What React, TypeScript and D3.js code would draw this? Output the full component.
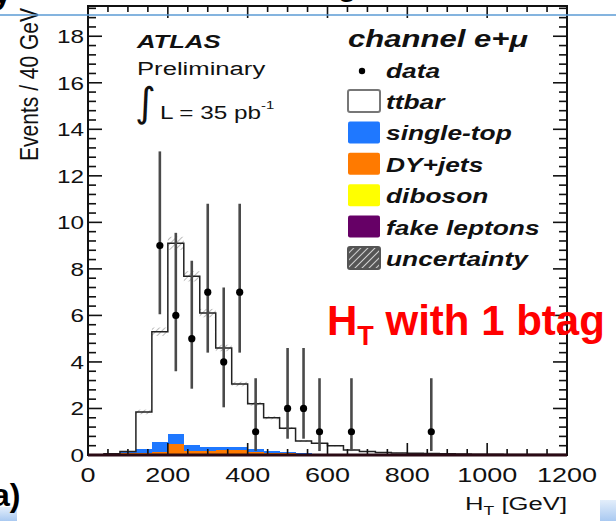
import * as d3 from "d3";

// bin low edges (40 GeV bins)
const binLow = [0, 40, 80, 120, 160, 200, 240, 280, 320, 360, 400, 440, 480, 520, 560, 600, 640, 680, 720, 760, 800, 840, 880, 920, 960, 1000, 1040, 1080, 1120, 1160];
const binWidth = 40;

// MC stack, bottom to top
const fakeLeptons = [0, 0, 0, 0.02, 0.02, 0.02, 0.02, 0.02, 0.02, 0.02, 0.02, 0.02, 0.02, 0.02, 0, 0, 0, 0, 0, 0, 0, 0, 0, 0, 0, 0, 0, 0, 0, 0];
const diboson = [0, 0, 0, 0, 0.04, 0.04, 0.04, 0.04, 0.04, 0.04, 0.04, 0, 0, 0, 0, 0, 0, 0, 0, 0, 0, 0, 0, 0, 0, 0, 0, 0, 0, 0];
const dyJets = [0, 0.04, 0.1, 0.05, 0.08, 0.4, 0.1, 0.1, 0.15, 0.15, 0.05, 0.05, 0.05, 0.02, 0, 0, 0, 0, 0, 0, 0, 0, 0, 0, 0, 0, 0, 0, 0, 0];
const singleTop = [0, 0, 0.03, 0.18, 0.4, 0.45, 0.25, 0.2, 0.15, 0.12, 0.15, 0.1, 0.05, 0.03, 0.02, 0.01, 0.01, 0.01, 0, 0, 0, 0, 0, 0, 0, 0, 0, 0, 0, 0];
const ttbar = [0, 0.01, 0.02, 1.6, 4.76, 8.19, 7.27, 5.74, 4.24, 2.72, 1.94, 1.43, 1.03, 0.53, 0.48, 0.39, 0.21, 0.14, 0.11, 0.09, 0.07, 0.06, 0.05, 0.04, 0.03, 0.03, 0.02, 0.02, 0.02, 0.02];
const mcUnc = [0, 0, 0.02, 0.1, 0.18, 0.28, 0.22, 0.18, 0.14, 0.1, 0.08, 0.07, 0.05, 0.04, 0.03, 0.03, 0.02, 0.02, 0.02, 0.01, 0.01, 0.01, 0.01, 0.01, 0, 0, 0, 0, 0, 0];

// data points with asymmetric error bars
const dataX = [180, 220, 260, 300, 340, 380, 420, 500, 540, 580, 660, 860];
const dataY = [9, 6, 5, 7, 4, 7, 1, 2, 2, 1, 1, 1];
const dataLo = [6.05, 3.6, 2.85, 4.4, 2.05, 4.4, 0.17, 0.7, 0.7, 0.17, 0.17, 0.17];
const dataHi = [13.05, 9.55, 8.35, 10.8, 7.2, 10.8, 3.3, 4.6, 4.6, 3.3, 3.3, 3.3];

const yTicks = [0, 2, 4, 6, 8, 10, 12, 14, 16, 18];
const xTicks = [0, 200, 400, 600, 800, 1000, 1200];

const legendItems = [
  { label: "ttbar", fill: "#ffffff", stroke: "#777" },
  { label: "single-top", fill: "#1f78ff", stroke: "none" },
  { label: "DY+jets", fill: "#ff7a00", stroke: "none" },
  { label: "diboson", fill: "#ffff00", stroke: "none" },
  { label: "fake leptons", fill: "#660066", stroke: "none" },
  { label: "uncertainty", fill: "url(#hatchL)", stroke: "#555" },
];

const font = "'Liberation Sans', Arial, sans-serif";
const SX = 1.35;
const ink = "#111";

export default function App() {
  const width = 616;
  const height = 521;
  const x = d3.scaleLinear().domain([0, 1200]).range([88, 567]);
  const y = d3.scaleLinear().domain([0, 19.3]).range([455, 6]);

  const keys = ["fake", "diboson", "dy", "single", "ttbar"];
  const colors: Record<string, string> = {
    fake: "#660066",
    diboson: "#ffff00",
    dy: "#ff7a00",
    single: "#1f78ff",
    ttbar: "#ffffff",
  };
  const rows = binLow.map((b, i) => ({
    low: b,
    fake: fakeLeptons[i],
    diboson: diboson[i],
    dy: dyJets[i],
    single: singleTop[i],
    ttbar: ttbar[i],
  }));
  const stacked = d3.stack<any>().keys(keys)(rows);
  const totals = rows.map((r) => keys.reduce((s, k) => s + r[k], 0));

  const linePts: [number, number][] = binLow.map((b, i) => [b, totals[i]]);
  linePts.push([1200, totals[totals.length - 1]]);
  const totalLine = d3
    .line<[number, number]>()
    .x((d) => x(d[0]))
    .y((d) => y(d[1]))
    .curve(d3.curveStepAfter)(linePts);

  const yMinor = d3.range(0, 19.3, 0.4);
  const xMinor = d3.range(0, 1201, 50);

  const T = ({ x: tx, y: ty, sx = SX, children, ...rest }: any) => (
    <text transform={`translate(${tx},${ty}) scale(${sx},1)`} fontFamily={font} fill={ink} {...rest}>
      {children}
    </text>
  );

  return (
    <svg width={width} height={height} style={{ position: "absolute", left: 0, top: 0, background: "#fff" }}>
      <defs>
        <pattern id="hatch" width="4" height="4" patternUnits="userSpaceOnUse" patternTransform="rotate(45)">
          <line x1="0" y1="0" x2="0" y2="4" stroke="#777" strokeWidth="1" />
        </pattern>
        <pattern id="hatchL" width="5" height="5" patternUnits="userSpaceOnUse" patternTransform="rotate(45)">
          <rect width="5" height="5" fill="#555" />
          <line x1="0" y1="0" x2="0" y2="5" stroke="#ddd" strokeWidth="1.8" />
        </pattern>
        <linearGradient id="blueGrad" x1="0" y1="0" x2="0" y2="1">
          <stop offset="0" stopColor="#e3eefb" />
          <stop offset="1" stopColor="#a9c9f1" />
        </linearGradient>
      </defs>

      {/* slide fragments */}
      <text x={-6} y={4} fontFamily={font} fontWeight="bold" fontSize={30} fill="#000">y</text>
      <text x={338} y={-4} fontFamily={font} fontWeight="bold" fontSize={30} fill="#000">g</text>

      {/* stacked MC */}
      {stacked.map((layer) => (
        <g key={layer.key}>
          {layer.map((d, i) => (
            <rect
              key={i}
              x={x(binLow[i])}
              width={x(binLow[i] + binWidth) - x(binLow[i])}
              y={y(d[1])}
              height={Math.max(0, y(d[0]) - y(d[1]))}
              fill={colors[layer.key]}
              shapeRendering="crispEdges"
            />
          ))}
        </g>
      ))}

      {/* MC uncertainty band */}
      {binLow.map((b, i) =>
        mcUnc[i] > 0 ? (
          <rect
            key={i}
            x={x(b)}
            width={x(b + binWidth) - x(b)}
            y={y(totals[i] + mcUnc[i])}
            height={y(totals[i] - mcUnc[i]) - y(totals[i] + mcUnc[i])}
            fill="url(#hatch)"
          />
        ) : null
      )}
      <path d={totalLine || ""} fill="none" stroke="#222" strokeWidth={1.5} />

      {/* data */}
      {dataX.map((dx, i) => (
        <g key={i}>
          <line x1={x(dx)} x2={x(dx)} y1={y(dataLo[i])} y2={y(dataHi[i])} stroke="#4a4a4a" strokeWidth={2.6} />
          <circle cx={x(dx)} cy={y(dataY[i])} r={3.6} fill="#000" />
        </g>
      ))}

      {/* frame & ticks */}
      <rect x={x(0)} y={y(19.3)} width={x(1200) - x(0)} height={y(0) - y(19.3)} fill="none" stroke="#111" strokeWidth={2} />
      {yMinor.map((v, i) => {
        const major = Math.abs(v / 2 - Math.round(v / 2)) < 1e-6;
        const len = major ? 14 : 8;
        return (
          <g key={i} stroke="#111" strokeWidth={1.6}>
            <line x1={x(0)} x2={x(0) + len} y1={y(v)} y2={y(v)} />
            <line x1={x(1200)} x2={x(1200) - len} y1={y(v)} y2={y(v)} />
          </g>
        );
      })}
      {xMinor.map((v, i) => {
        const major = v % 200 === 0;
        const len = major ? 12 : 6;
        return (
          <g key={i} stroke="#111" strokeWidth={1.6}>
            <line x1={x(v)} x2={x(v)} y1={y(0)} y2={y(0) - len} />
            <line x1={x(v)} x2={x(v)} y1={y(19.3)} y2={y(19.3) + len} />
          </g>
        );
      })}
      <line x1={x(0)} x2={x(1200)} y1={y(0)} y2={y(0)} stroke="#2a0a14" strokeWidth={3} />

      {/* tick labels */}
      {yTicks.map((v) => (
        <T key={v} x={84} y={y(v) + 7} fontSize={18} textAnchor="end">{v}</T>
      ))}
      {xTicks.map((v) => (
        <T key={v} x={x(v)} y={482} fontSize={20} textAnchor="middle">{v}</T>
      ))}

      {/* axis titles */}
      <text transform={`translate(38,8) rotate(-90) scale(1,1.2)`} fontFamily={font} fontSize={21} fill={ink} textAnchor="end">
        Events / 40 GeV
      </text>
      <T x={567} y={510} fontSize={19} textAnchor="end">
        H<tspan fontSize={13} dy={5}>T</tspan>
        <tspan dy={-5}> [GeV]</tspan>
      </T>

      {/* ATLAS label */}
      <T x={137} y={48} fontSize={19} fontWeight="bold" fontStyle="italic">ATLAS</T>
      <T x={137} y={75} fontSize={19}>Preliminary</T>
      <T x={135} y={116} sx={1} fontSize={40} fontFamily="'DejaVu Sans', sans-serif">∫</T>
      <T x={160} y={119} fontSize={18}>
        L = 35 pb<tspan fontSize={11} dy={-10}>-1</tspan>
      </T>

      {/* legend */}
      <T x={348} y={47} fontSize={23} fontWeight="bold" fontStyle="italic">channel e+μ</T>
      <circle cx={362} cy={71} r={3.2} fill="#000" />
      <T x={386} y={78} fontSize={19.5} fontWeight="bold" fontStyle="italic">data</T>
      {legendItems.map((d, i) => {
        const top = 90 + i * 31.4;
        return (
          <g key={d.label}>
            <rect
              x={348}
              y={top}
              width={32}
              height={22}
              rx={2}
              fill={d.fill}
              stroke={d.stroke}
              strokeWidth={d.stroke === "none" ? 0 : 2}
            />
            <T x={386} y={top + 19} fontSize={19.5} fontWeight="bold" fontStyle="italic">{d.label}</T>
          </g>
        );
      })}

      {/* overlay annotations */}
      <text x={327} y={335} fontFamily={font} fontWeight="bold" fontSize={42} fill="#ff0000">
        H<tspan fontSize={27} dy={10}>T</tspan>
        <tspan dy={-10}> with 1 btag</tspan>
      </text>
      <line x1={0} x2={616} y1={15} y2={15} stroke="#5b9bd5" strokeWidth={1.5} />
      <rect x={0} y={507} width={17} height={14} fill="url(#blueGrad)" />
      <rect x={600} y={500} width={16} height={21} fill="url(#blueGrad)" />
      <text x={-8} y={506} fontFamily={font} fontWeight="bold" fontSize={32} fill="#000">a)</text>
    </svg>
  );
}
